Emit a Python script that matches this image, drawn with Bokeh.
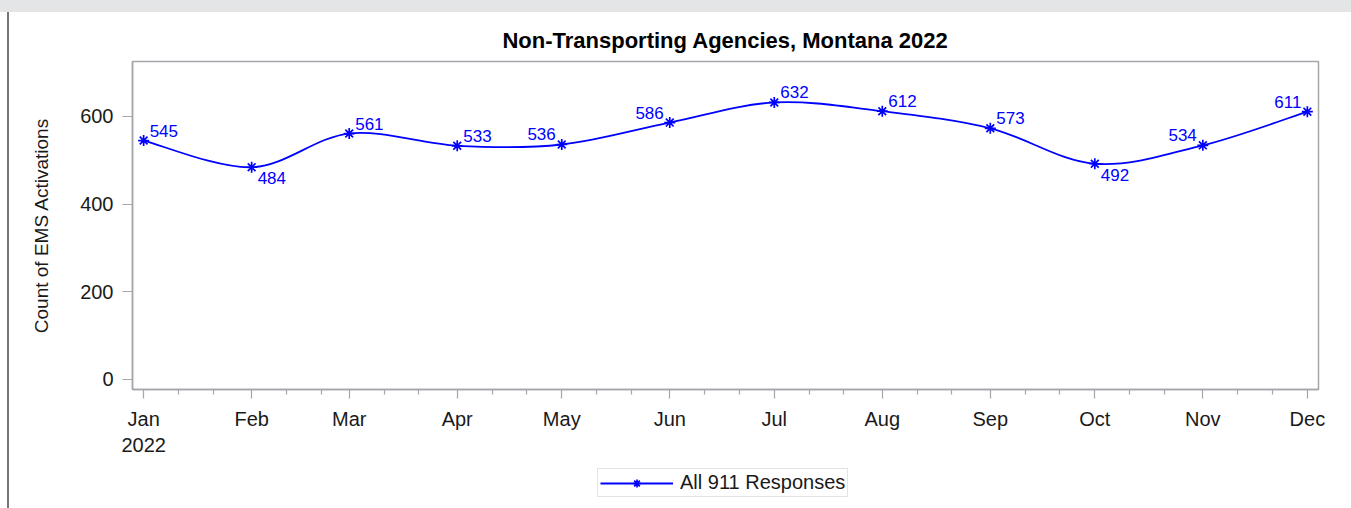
import numpy as np
import pandas as pd
from bokeh.plotting import figure
from bokeh.layouts import column
from bokeh.models import (ColumnDataSource, FixedTicker, Legend, LegendItem,
                          Range1d, GlobalInlineStyleSheet)
from bokeh.core.properties import value
from bokeh.embed import file_html
from bokeh.resources import INLINE

# ---- data ----
months = ["Jan", "Feb", "Mar", "Apr", "May", "Jun",
          "Jul", "Aug", "Sep", "Oct", "Nov", "Dec"]
year = 2022
counts = [545, 484, 561, 533, 536, 586, 632, 612, 573, 492, 534, 611]
series_name = "All 911 Responses"
title_text = "Non-Transporting Agencies, Montana 2022"
y_label = "Count of EMS Activations"
y_ticks = [0, 200, 400, 600]
# label placement per point: R/L = right/left, A/B = above/below
label_pos = ["RA", "RB", "RA", "RA", "LA", "LA", "RA", "RA", "RA", "RB", "LA", "LA"]

BLUE = "#0000ff"
GRAY = "#a3a6aa"
TXT = "#1a1a1a"
FONT = "Liberation Sans"

dates = pd.to_datetime([f"{year}-{i+1:02d}-01" for i in range(12)])
x = np.array([(d - dates[0]).days for d in dates], dtype=float)
y = np.array(counts, dtype=float)

# minor ticks on the 11th and 21st of each month (Jan..Nov)
minor = []
for d in dates[:-1]:
    for day in (11, 21):
        minor.append(float((d.replace(day=day) - dates[0]).days))

p = figure(frame_width=1186, frame_height=328, output_backend="svg", toolbar_location=None,
           x_range=Range1d(-3.2, 337.2), y_range=Range1d(-23.5, 725.5),
           min_border_left=132, min_border_right=30, min_border_top=61,
           min_border_bottom=75)
p.stylesheets = [GlobalInlineStyleSheet(css=(
    "body{background:"
    "linear-gradient(#e4e5e7,#e4e5e7) 0 0/100% 12px no-repeat,"
    "linear-gradient(#767676,#767676) 7px 12px/2px 100% no-repeat,#ffffff;}"))]
p.border_fill_color = None
p.background_fill_color = "white"
p.outline_line_color = GRAY
p.outline_line_width = 1.5
p.xgrid.visible = False
p.ygrid.visible = False

p.title.text = title_text
p.title.align = "center"
p.title.text_font = FONT
p.title.text_font_size = "22px"
p.title.text_font_style = "bold"
p.title.text_color = "black"
p.title.standoff = 17

# ---- smooth curve through points (Catmull-Rom -> cubic Bezier) ----
px = np.concatenate([[x[0]], x, [x[-1]]])
py = np.concatenate([[y[0]], y, [y[-1]]])
cx0 = px[1:-2] + (px[2:-1] - px[0:-3]) / 6.0
cy0 = py[1:-2] + (py[2:-1] - py[0:-3]) / 6.0
cx1 = px[2:-1] - (px[3:] - px[1:-2]) / 6.0
cy1 = py[2:-1] - (py[3:] - py[1:-2]) / 6.0
bsrc = ColumnDataSource(dict(x0=x[:-1], y0=y[:-1], x1=x[1:], y1=y[1:],
                             cx0=cx0, cy0=cy0, cx1=cx1, cy1=cy1))
curve = p.bezier(x0="x0", y0="y0", x1="x1", y1="y1", cx0="cx0", cy0="cy0",
                 cx1="cx1", cy1="cy1", source=bsrc, line_color=BLUE, line_width=1.8)
pts = p.scatter(x, y, marker="asterisk", size=11, line_color=BLUE, line_width=1.7)

# ---- data labels ----
for code in ("RA", "RB", "LA", "LB"):
    idx = [i for i, c in enumerate(label_pos) if c == code]
    if not idx:
        continue
    src = ColumnDataSource(dict(x=x[idx], y=y[idx], t=[str(counts[i]) for i in idx]))
    p.text(x="x", y="y", text="t", source=src,
           text_font=value(FONT), text_font_size="17px", text_color=BLUE,
           text_align="left" if code[0] == "R" else "right",
           text_baseline="bottom" if code[1] == "A" else "top",
           x_offset=6 if code[0] == "R" else -6,
           y_offset=-4 if code[1] == "A" else 5)

# ---- axes ----
xa = p.xaxis[0]
xa.ticker = FixedTicker(ticks=list(x), minor_ticks=minor)
overrides = {float(v): m for v, m in zip(x, months)}
overrides[float(x[0])] = f"{months[0]}\n{year}"
xa.major_label_overrides = overrides
ya = p.yaxis[0]
ya.ticker = FixedTicker(ticks=y_ticks, minor_ticks=[])
ya.axis_label = y_label

for ax in (xa, ya):
    ax.axis_line_color = GRAY
    ax.axis_line_width = 1.5
    ax.major_tick_line_color = GRAY
    ax.minor_tick_line_color = GRAY
    ax.major_tick_line_width = 1.2
    ax.minor_tick_line_width = 1.2
    ax.major_tick_in = 0
    ax.minor_tick_in = 0
    ax.major_tick_out = 9
    ax.minor_tick_out = 5
    ax.major_label_text_font = FONT
    ax.major_label_text_font_size = "20px"
    ax.major_label_text_color = TXT
    ax.axis_label_text_font = FONT
    ax.axis_label_text_font_size = "19px"
    ax.axis_label_text_font_style = "normal"
    ax.axis_label_text_color = TXT
ya.major_tick_out = 10
ya.major_label_standoff = 9
xa.major_label_standoff = 9
ya.axis_label_standoff = 25

# ---- legend strip below the chart ----
leg = figure(width=1348, height=40, output_backend="svg", toolbar_location=None,
             x_range=Range1d(0, 1), y_range=Range1d(0, 1),
             x_axis_type=None, y_axis_type=None, min_border=0)
leg.border_fill_color = None
leg.background_fill_color = None
leg.outline_line_color = None
leg.xgrid.visible = False
leg.ygrid.visible = False
# same series; lies outside this strip's ranges, so only its legend sample shows
l_line = leg.line(x, y, line_color=BLUE, line_width=1.8)
l_pts = leg.scatter(x, y, marker="asterisk", size=13, line_color=BLUE, line_width=1.7)
legend = Legend(items=[LegendItem(label=series_name, renderers=[l_line, l_pts])],
                location=(465, 7), orientation="horizontal",
                glyph_width=73, glyph_height=20, label_standoff=7,
                padding=2, spacing=0, margin=0,
                border_line_color="#c8c8c8", border_line_width=1.2,
                label_text_font=FONT, label_text_font_size="20px",
                label_text_color=TXT, background_fill_color="white")
leg.add_layout(legend, "center")

open("out.html", "w").write(file_html(column(p, leg, spacing=0), INLINE))
